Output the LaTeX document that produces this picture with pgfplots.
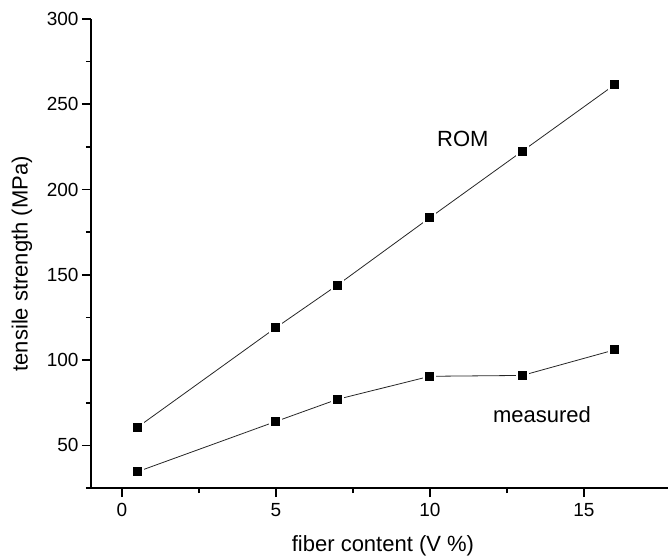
\documentclass[border=0pt]{standalone}
\usepackage{fontspec}
\setmainfont{Liberation Sans}
\usepackage{pgfplots}
\pgfplotsset{compat=1.18}
\begin{document}
\begin{tikzpicture}
\useasboundingbox (-91bp,-68bp) rectangle (577bp,488bp);
\begin{axis}[
  at={(0,0)}, anchor=south west,
  scale only axis, width=577bp, height=469bp,
  xmin=-1, xmax=17.73, ymin=25, ymax=300,
  axis x line*=bottom, axis y line*=left,
  axis line style={line width=1.7bp, black},
  x axis line style={shorten <=-5bp},
  xtick={0,5,10,15}, ytick={50,100,...,300},
  minor x tick num=1, minor y tick num=1,
  tick align=outside, major tick length=9bp, minor tick length=5bp,
  every tick/.style={line width=1.6bp, black},
  ticklabel style={font=\fontsize{19bp}{22bp}\selectfont},
  xticklabel style={yshift=-3bp},
  /pgf/number format/assume math mode=true,
  xlabel={fiber content (V \%)}, ylabel={tensile strength (MPa)},
  label style={font=\fontsize{22bp}{26bp}\selectfont},
  xlabel style={at={(axis description cs:0.506,-0.1237)}, anchor=center},
  ylabel style={at={(axis description cs:-0.1196,0.478)}, anchor=center},
  clip=false,
]
\addplot[black!85, line width=0.8bp, mark=square*, mark size=5.5bp,
  mark options={fill=black, draw=white, line width=2bp, solid}]
  coordinates {(0.5,60.5) (5,119) (7,144) (10,183.5) (13,222.5) (16,261.5)};
\addplot[black!85, line width=0.8bp, mark=square*, mark size=5.5bp,
  mark options={fill=black, draw=white, line width=2bp, solid}]
  coordinates {(0.5,34.5) (5,64) (7,77) (10,90.5) (13,91) (16,106)};
\node[font=\fontsize{22bp}{26bp}\selectfont] at (axis cs:11.07,229.7) {ROM};
\node[font=\fontsize{22bp}{26bp}\selectfont] at (axis cs:13.64,68) {measured};
\end{axis}
\end{tikzpicture}
\end{document}
